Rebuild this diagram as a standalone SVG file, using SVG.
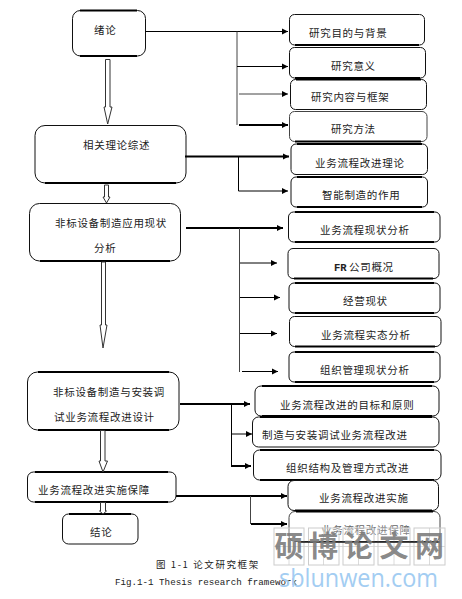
<svg xmlns="http://www.w3.org/2000/svg" width="462" height="599" viewBox="0 0 462 599">
<style>
.b{fill:#fff;stroke:#111;stroke-width:1}
.e{fill:none;stroke:#000;stroke-width:2.2}
.t{font-family:"Noto Sans CJK SC","Noto Sans",sans-serif;font-size:10.5px;letter-spacing:.7px;fill:#222}
.c{fill:none;stroke:#000;stroke-width:1}
.g{stroke:#444}
.h{stroke-width:2}
.d{fill:#fff;stroke:#333;stroke-width:1}
.cap{font-size:9.500px;letter-spacing:1.600px}
.en{font-family:"Liberation Mono",monospace;font-size:9.200px;fill:#222}
.tile{fill:#fff;fill-opacity:.2;stroke:#ccc;stroke-width:1}
.wm{font-family:"Noto Sans CJK SC",sans-serif;font-size:29px;font-weight:700;fill:#7a7a7a;fill-opacity:.9}
.wu{font-family:"Open Sans","Liberation Sans",sans-serif;font-size:25px;fill:#a3cdf2}
</style>
<defs><marker id="a" markerUnits="userSpaceOnUse" markerWidth="7" markerHeight="7" refX="6" refY="3.5" orient="auto"><path d="M0 .5L6 3.5L0 6.500Z" fill="#000"/></marker></defs>

<g id="n1"><rect class="b" x="72.500" y="10.500" width="73" height="45.500" rx="8"/><path class="e" d="M80 10.500H137M80 56H137"/><text class="t" x="94" y="34">绪论</text></g>
<g id="n2"><rect class="b" x="35" y="125.500" width="151" height="57.500" rx="10"/><path class="e" d="M45 183H176"/><text class="t" x="83" y="149">相关理论综述</text></g>
<g id="n3"><rect class="b" x="29.500" y="203.500" width="151" height="57.500" rx="10"/><path class="e" d="M40 261H170"/><text class="t" x="55" y="227">非标设备制造应用现状</text><text class="t" x="94" y="252">分析</text></g>
<g id="n4"><rect class="b" x="27.500" y="372" width="151.500" height="58" rx="10"/><path class="e" d="M38 372H169M38 430H169"/><text class="t" x="53" y="396">非标设备制造与安装调</text><text class="t" x="54" y="421">试业务流程改进设计</text></g>
<g id="n5"><rect class="b" x="27.500" y="472" width="148.500" height="30" rx="6"/><path class="e" d="M35 472H168M35 502H168"/><text class="t" x="38" y="494">业务流程改进实施保障</text></g>
<g id="n6"><rect class="b" x="62.500" y="514" width="75.500" height="30" rx="6"/><path class="e" d="M69 514H131"/><text class="t" x="90" y="536">结论</text></g>

<g id="r1"><rect class="b" x="289.500" y="14.500" width="135" height="30.500" rx="5"/><path class="e" d="M295 45H419"/><text class="t" x="309" y="37">研究目的与背景</text></g>
<g id="r2"><rect class="b" x="289.500" y="47.500" width="136" height="30.500" rx="5"/><path class="e" d="M295 78H420"/><text class="t" x="331" y="70">研究意义</text></g>
<g id="r3"><rect class="b" x="290.500" y="79.500" width="136" height="30" rx="5"/><path class="e" d="M296 79.500H421"/><text class="t" x="311" y="101">研究内容与框架</text></g>
<g id="r4"><rect class="b g" x="289.500" y="111.500" width="137.500" height="30" rx="5"/><path class="e" d="M295 141.500H421"/><text class="t" x="331" y="133">研究方法</text></g>
<g id="r5"><rect class="b" x="291" y="144" width="136.500" height="30.500" rx="5"/><path class="e" d="M297 144H422"/><text class="t" x="315" y="167">业务流程改进理论</text></g>
<g id="r6"><rect class="b" x="291" y="177" width="136.500" height="30" rx="5"/><path class="e" d="M297 177H422M297 207H422"/><text class="t" x="322" y="199">智能制造的作用</text></g>
<g id="r7"><rect class="b" x="288.500" y="212" width="151.500" height="30" rx="5"/><path class="e" d="M295 212H434M295 242H434"/><text class="t" x="320" y="234">业务流程现状分析</text></g>
<g id="r8"><rect class="b" x="288" y="248.500" width="151" height="30" rx="5"/><path class="e" d="M294 278.500H433"/><text class="en" x="334" y="271" font-weight="700" style="font-size:10.500px">FR</text><text class="t" x="349" y="271">公司概况</text></g>
<g id="r9"><rect class="b" x="289" y="283" width="151" height="30" rx="5"/><path class="e" d="M295 283H434M295 313H434"/><text class="t" x="343" y="305">经营现状</text></g>
<g id="r10"><rect class="b" x="289.500" y="316.500" width="151.500" height="30" rx="5"/><path class="e" d="M295 346.500H435"/><text class="t" x="321" y="339">业务流程实态分析</text></g>
<g id="r11"><rect class="b" x="289" y="352" width="151" height="30" rx="5"/><path class="e" d="M295 352H434M295 382H434"/><text class="t" x="320" y="374">组织管理现状分析</text></g>
<g id="r12"><rect class="b" x="255" y="386" width="184" height="30" rx="6"/><path class="e" d="M262 386H432M262 416H432"/><text class="t" x="280" y="409">业务流程改进的目标和原则</text></g>
<g id="r13"><rect class="b" x="252.500" y="417" width="186.500" height="30" rx="6"/><path class="e" d="M260 417H432"/><text class="t" x="262" y="439">制造与安装调试业务流程改进</text></g>
<g id="r14"><rect class="b" x="253.500" y="450" width="187.500" height="30" rx="6"/><path class="e" d="M260 450H434M260 480H434"/><text class="t" x="286" y="472">组织结构及管理方式改进</text></g>
<g id="r15"><rect class="b" x="288" y="480.500" width="150.500" height="30" rx="6"/><path class="e" d="M295 510.500H432"/><text class="t" x="319" y="502">业务流程改进实施</text></g>
<g id="r16"><rect class="b g" x="289" y="511.500" width="151" height="30" rx="6"/><path class="e" d="M296 511.500H433"/><text class="t" x="321" y="534" style="fill:#666">业务流程改进保障</text></g>

<g id="connectors">
<path class="c" d="M145.500 31.500H288" marker-end="url(#a)"/>
<path class="c g" d="M237 31.500V125"/>
<path class="c" d="M237 66.500H288" marker-end="url(#a)"/>
<path class="c g" d="M239 94H288" marker-end="url(#a)"/>
<path class="c h" d="M239 125H288" marker-end="url(#a)"/>
<path class="c h" d="M185 156.500H289" marker-end="url(#a)"/>
<path class="c" d="M238.500 156.500V191H288" marker-end="url(#a)"/>
<path class="c h" d="M186 228H283" marker-end="url(#a)"/>
<path class="c g" d="M239.500 228V372"/>
<path class="c" d="M240 263H277" marker-end="url(#a)"/>
<path class="c" d="M240 297.500H280" marker-end="url(#a)"/>
<path class="c" d="M240 333.500H277" marker-end="url(#a)"/>
<path class="c" d="M242 371.500H278" marker-end="url(#a)"/>
<path class="c h" d="M180 404H250" marker-end="url(#a)"/>
<path class="c" d="M231.500 404V466"/>
<path class="c" d="M232 434H252" marker-end="url(#a)"/>
<path class="c h" d="M231 466H251" marker-end="url(#a)"/>
<path class="c h" d="M176 496H287" marker-end="url(#a)"/>
<path class="c g" d="M250.500 496V524"/>
<path class="c h" d="M251 524H287" marker-end="url(#a)"/>
<path class="d" d="M105.500 59.500H110V107H112L107.700 124L104 107H105.500Z"/>
<path class="d" d="M104.500 185H108.500V197H110L106.500 203L103 197H104.500Z"/>
<path class="d" d="M101.500 262H105.500V325H107L103 348L100 325H101.500Z"/>
<path class="d" d="M100.500 430.500H105V461H107.500L103 472L99 461H100.500Z"/>
<path class="d" d="M100.500 502.500H105.500V511H106.500L103 514L99.500 511H100.500Z"/>
</g>

<text class="t cap" x="156" y="568">图 1-1 论文研究框架</text>
<text class="en" x="115" y="585">Fig.1-1 Thesis research framework</text>

<g id="watermark">
<rect class="tile" x="274" y="528" width="30" height="37"/><rect class="tile" x="308.500" y="528" width="30.500" height="37"/><rect class="tile" x="343" y="528" width="31" height="37"/><rect class="tile" x="378" y="528" width="32" height="37"/><rect class="tile" x="414" y="528" width="31" height="37"/>
<path d="M274 546.500H445M289 528V565M323.500 528V565M358.500 528V565M394 528V565M429.500 528V565" fill="none" stroke="#ccc" stroke-width=".7"/>
<path d="M298 542H440" stroke="#111" stroke-width="1.500"/>
<text class="wm" x="274.500" y="557">硕</text><text class="wm" x="309" y="557">博</text><text class="wm" x="344" y="557">论</text><text class="wm" x="379.500" y="557">文</text><text class="wm" x="415" y="557">网</text>
<text class="wu" x="279" y="587" textLength="159" lengthAdjust="spacingAndGlyphs">sblunwen.com</text>
</g>
</svg>
